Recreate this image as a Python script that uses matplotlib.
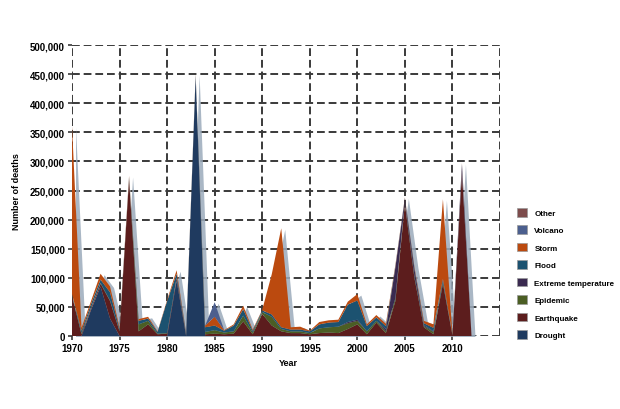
import matplotlib
matplotlib.use("Agg")
import matplotlib.pyplot as plt
import matplotlib.transforms as mtransforms
from matplotlib.patches import Patch
import numpy as np

plt.rcParams["font.family"] = ["Liberation Sans Narrow", "Liberation Sans", "DejaVu Sans"]
plt.rcParams["font.weight"] = "bold"

# deaths per year, thousands
years = list(range(1970, 2013))
drought = [0, 0, 45, 85, 30, 0, 0, 0, 0, 0,
           0, 95, 0, 446, 0, 0, 0, 0, 0, 0,
           0, 0, 0, 0, 0, 0, 0, 0, 0, 0,
           0, 0, 0, 0, 0, 0, 0, 0, 0, 0,
           0, 0, 0]
earthquake = [69, 3, 3, 5, 30, 8, 270, 8, 20, 3,
              4, 5, 2, 1, 3, 4, 3, 4, 25, 3,
              38, 18, 8, 5, 5, 3, 5, 6, 5, 12,
              20, 3, 23, 5, 60, 227, 100, 15, 3, 90,
              1, 280, 1]
epidemic = [1, 2, 1, 1, 1, 1, 1, 12, 6, 1,
            1, 0, 1, 1, 4, 6, 3, 4, 10, 3,
            3, 15, 4, 3, 3, 2, 8, 9, 11, 10,
            6, 5, 3, 3, 5, 3, 3, 2, 4, 3,
            0, 2, 0]
extreme_temp = [0, 0, 0, 0, 0, 0, 0, 0, 0, 0,
                0, 0, 0, 0, 0, 0, 0, 0, 0, 0,
                0, 0, 0, 0, 0, 0, 0, 0, 0, 2,
                2, 0, 0, 4, 53, 6, 12, 2, 1, 1,
                0, 13, 0]
flood = [2, 4, 6, 6, 14, 3, 2, 6, 4, 3,
         55, 7, 2, 1, 8, 8, 3, 10, 11, 3,
         3, 4, 3, 3, 3, 3, 7, 8, 8, 30,
         33, 9, 6, 5, 2, 1, 2, 3, 6, 4,
         1, 1, 1]
storm = [288, 5, 5, 10, 10, 3, 2, 3, 3, 1,
         2, 6, 1, 1, 3, 15, 1, 2, 6, 2,
         1, 69, 170, 4, 5, 1, 4, 4, 4, 5,
         11, 3, 4, 4, 2, 1, 2, 4, 6, 137,
         1, 1, 0]
volcano = [0] * 15 + [25] + [0] * 27
other = [1] + [0] * 42

labels = ["Drought", "Earthquake", "Epidemic", "Extreme temperature",
          "Flood", "Storm", "Volcano", "Other"]
colors = ["#1f3a5f", "#5c1d1d", "#4b5e24", "#3a2a50",
          "#1c5270", "#bb4a0f", "#4c5f8e", "#7d4c4c"]

series = np.array([drought, earthquake, epidemic, extreme_temp,
                   flood, storm, volcano, other]) * 1000
total = series.sum(axis=0)

fig = plt.figure(figsize=(6.2, 4.1), dpi=100)
ax = fig.add_axes([72 / 620, 73 / 410, 428 / 620, 291 / 410])

# soft drop shadow behind the whole silhouette
shift = mtransforms.offset_copy(ax.transData, fig=fig, x=3.5, y=-1, units="dots")
ax.fill_between(years, 0, total, color="#9babbb", alpha=0.85, lw=0,
                transform=shift, zorder=1)

ax.stackplot(years, series, colors=colors, linewidth=0, zorder=2)

ax.set_xlim(1970, 2015)
ax.set_ylim(0, 500000)
ax.set_xticks(range(1970, 2011, 5))
ax.set_yticks(range(0, 500001, 50000))
ax.yaxis.set_major_formatter(matplotlib.ticker.FuncFormatter(lambda v, _: f"{int(v):,}"))

ax.set_axisbelow(True)
ax.grid(True, color="#3a3a3a", linestyle=(0, (4, 2)), linewidth=1.4, zorder=0)
ax.axvline(2015, color="#3a3a3a", linestyle=(0, (4, 2)), linewidth=1.4, zorder=0)
for s in ax.spines.values():
    s.set_visible(False)
ax.tick_params(length=3, width=1.2, color="#3a3a3a", labelsize=7, pad=2)

ax.set_xlabel("Year", fontsize=6.5, fontweight="bold")
ax.xaxis.set_label_coords(0.505, -0.075)
ax.set_ylabel("Number of deaths", fontsize=6.5, fontweight="bold")
ax.yaxis.set_label_coords(-0.12, 0.5)

handles = [Patch(facecolor=c, edgecolor="#999999", linewidth=0.5) for c in colors]
fig.legend(handles[::-1], labels[::-1], loc="upper left",
           bbox_to_anchor=(513 / 620, 1 - 205 / 410), frameon=False,
           fontsize=5.8, handlelength=1.25, handleheight=1.25,
           handletextpad=0.9, labelspacing=1.05, borderpad=0)

fig.savefig("out.png", dpi=100)
